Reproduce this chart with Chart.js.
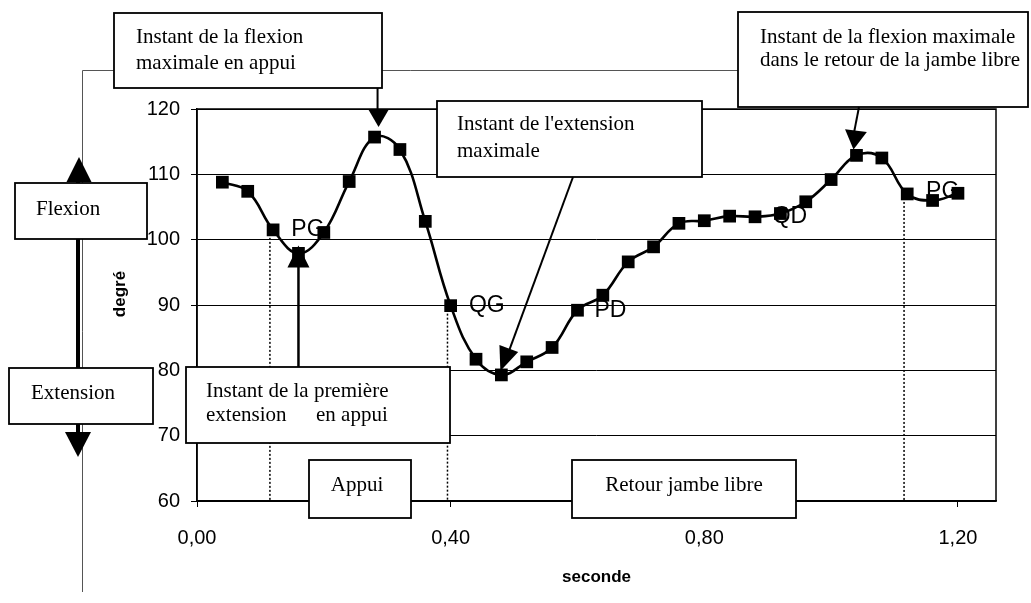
<!DOCTYPE html>
<html><head><meta charset="utf-8">
<script src="https://cdn.jsdelivr.net/npm/chart.js@4.4.1/dist/chart.umd.min.js"></script>
<style>html,body{margin:0;padding:0;background:#fff;}canvas{display:block;}</style>
</head><body>
<canvas id="c" width="1031" height="603"></canvas>
<script>
// time (s)
const seconde = [0.04,0.08,0.12,0.16,0.20,0.24,0.28,0.32,0.36,0.40,0.44,0.48,0.52,0.56,0.60,0.64,0.68,0.72,0.76,0.80,0.84,0.88,0.92,0.96,1.00,1.04,1.08,1.12,1.16,1.20];
// knee angle (degrees)
const degre = [108.8,107.4,101.5,97.9,101.1,108.9,115.7,113.8,102.8,89.9,81.7,79.3,81.3,83.5,89.2,91.5,96.6,98.9,102.5,102.9,103.6,103.5,104.0,105.8,109.2,112.9,112.5,107.0,106.0,107.1];
const xTickValues = [0,0.4,0.8,1.2];
const yTickValues = [60,70,80,90,100,110,120];
const phaseLimits = [0.115,0.395,1.115];
const eventLabels = ['PG','QG','PD','QD','PG'];
const eventLabelX = [0.175,0.457,0.652,0.935,1.176];
const eventLabelY = [101.5,89.85,89.2,103.5,107.3];

const SERIF = '"Liberation Serif","Times New Roman",serif';
const SANS = '"Liberation Sans",Arial,sans-serif';

function nearestIdx(v){
  let b=0; for(let k=1;k<seconde.length;k++){ if(Math.abs(seconde[k]-v)<Math.abs(seconde[b]-v)) b=k; } return b;
}
function box(ctx,x0,y0,x1,y1){
  ctx.save(); ctx.fillStyle='#fff'; ctx.fillRect(x0,y0,x1-x0,y1-y0);
  ctx.strokeStyle='#000'; ctx.lineWidth=1.8; ctx.strokeRect(x0,y0,x1-x0,y1-y0); ctx.restore();
}
function txt(ctx,s,x,y,align,base,font){
  ctx.save(); ctx.fillStyle='#000'; ctx.font=font||('21px '+SERIF); ctx.textAlign=align||'left'; ctx.textBaseline=base||'alphabetic'; ctx.fillText(s,x,y); ctx.restore();
}
function line(ctx,x0,y0,x1,y1,w,col){
  ctx.save(); ctx.strokeStyle=col||'#000'; ctx.lineWidth=w||2; ctx.beginPath(); ctx.moveTo(x0,y0); ctx.lineTo(x1,y1); ctx.stroke(); ctx.restore();
}
function head(ctx,fx,fy,tx,ty,len,half){
  const dx=tx-fx, dy=ty-fy, L=Math.hypot(dx,dy), ux=dx/L, uy=dy/L;
  const bx=tx-ux*len, by=ty-uy*len;
  ctx.save(); ctx.fillStyle='#000'; ctx.beginPath();
  ctx.moveTo(tx,ty); ctx.lineTo(bx-uy*half,by+ux*half); ctx.lineTo(bx+uy*half,by-ux*half); ctx.closePath(); ctx.fill(); ctx.restore();
}

const deco = {
  id:'deco',
  beforeDatasetsDraw(chart){
    const {ctx, chartArea:a, scales:{x,y}} = chart;
    ctx.save();
    ctx.strokeStyle='#000'; ctx.lineWidth=1.5; ctx.setLineDash([2,2]);
    phaseLimits.forEach(v=>{
      const i=nearestIdx(v), px=x.getPixelForValue(v);
      ctx.beginPath(); ctx.moveTo(px,y.getPixelForValue(degre[i])); ctx.lineTo(px,a.bottom); ctx.stroke();
    });
    ctx.setLineDash([]);
    ctx.lineWidth=1.5; ctx.strokeRect(a.left,a.top,a.right-a.left,a.bottom-a.top);
    ctx.restore();
  },
  afterDraw(chart){
    const {ctx, chartArea:a, scales:{x,y}} = chart;
    const P = i => ({px:x.getPixelForValue(seconde[i]), py:y.getPixelForValue(degre[i])});
    // event labels
    eventLabels.forEach((s,k)=>txt(ctx,s,x.getPixelForValue(eventLabelX[k]),y.getPixelForValue(eventLabelY[k]),'center','middle','23px '+SANS));
    // y axis title
    ctx.save(); ctx.translate(120,294); ctx.rotate(-Math.PI/2);
    txt(ctx,'degré',0,0,'center','middle','bold 17px '+SANS); ctx.restore();

    // left frame line
    ctx.save(); ctx.strokeStyle='#555'; ctx.lineWidth=1; ctx.beginPath();
    ctx.moveTo(82.5,592); ctx.lineTo(82.5,70.5); ctx.lineTo(738,70.5); ctx.stroke(); ctx.restore();
    // flexion / extension double arrow
    line(ctx,78,182,78,432,4);
    head(ctx,79,190,79,157,25,12.5);
    head(ctx,78,420,78,457,25,13);
    box(ctx,15,183,147,239); txt(ctx,'Flexion',36,215);
    box(ctx,9,368,153,424); txt(ctx,'Extension',31,399);

    // flexion max en appui
    const p7=P(6);
    box(ctx,114,13,382,88);
    txt(ctx,'Instant de la flexion',136,43); txt(ctx,'maximale en appui',136,69);
    line(ctx,p7.px+3,88,p7.px+3,112,2);
    head(ctx,p7.px+4,100,p7.px+4,p7.py-10,18,10.5);

    // extension maximale
    const p12=P(11);
    box(ctx,437,101,702,177);
    txt(ctx,"Instant de l'extension",457,130); txt(ctx,'maximale',457,157);
    line(ctx,573,177,p12.px+8,p12.py-25,2);
    head(ctx,573,177,p12.px-1,p12.py-4,24,10);

    // flexion max retour jambe libre
    const p26=P(25);
    box(ctx,738,12,1028,107);
    txt(ctx,'Instant de la flexion maximale',760,43); txt(ctx,'dans le retour de la jambe libre',760,66);
    line(ctx,859,107,p26.px-3,p26.py-20,2);
    head(ctx,859,107,p26.px-3,p26.py-6,19,11);

    // première extension en appui
    const p4=P(3);
    line(ctx,p4.px,p4.py+10,p4.px,367,2.5);
    head(ctx,p4.px,p4.py+20,p4.px,p4.py-8,22,11);
    box(ctx,186,367,450,443);
    txt(ctx,'Instant de la première',206,397); txt(ctx,'extension',206,421); txt(ctx,'en appui',316,421);

    // phases
    box(ctx,309,460,411,518); txt(ctx,'Appui',357,485,'center','middle');
    box(ctx,572,460,796,518); txt(ctx,'Retour jambe libre',684,485,'center','middle');
  }
};

new Chart(document.getElementById('c'), {
  type:'line',
  data:{ datasets:[{
    data: seconde.map((s,i)=>({x:s,y:degre[i]})),
    borderColor:'#000', borderWidth:2.6, tension:0.4,
    pointStyle:'rect', pointRadius:9, pointBackgroundColor:'#000', pointBorderColor:'#000', pointBorderWidth:0,
    fill:false
  }]},
  options:{
    responsive:false, animation:false, devicePixelRatio:1,
    layout:{padding:{top:109,right:35,left:0,bottom:0}},
    plugins:{legend:{display:false}, tooltip:{enabled:false}},
    events:[],
    scales:{
      x:{ type:'linear', min:0, max:1.26,
        afterBuildTicks: s => { s.ticks = xTickValues.map(v=>({value:v})); },
        afterFit: s => { s.height = 102; },
        grid:{drawOnChartArea:false, drawTicks:true, tickLength:6, color:'#000', lineWidth:1},
        border:{display:true, color:'#000', width:1.5},
        ticks:{ padding:19, color:'#000', font:{family:SANS, size:20}, maxRotation:0,
          callback: v => v.toFixed(2).replace('.',',') },
        title:{display:true, text:'seconde', color:'#000', font:{family:SANS, size:17, weight:'bold'}, padding:{top:0,bottom:15}}
      },
      y:{ type:'linear', min:60, max:120,
        afterBuildTicks: s => { s.ticks = yTickValues.map(v=>({value:v})); },
        afterFit: s => { s.width = 197; },
        grid:{drawOnChartArea:true, drawTicks:true, tickLength:6, color:'#000', lineWidth:1},
        border:{display:true, color:'#000', width:1.5},
        ticks:{ padding:11, color:'#000', font:{family:SANS, size:20} }
      }
    }
  },
  plugins:[deco]
});
</script>
</body></html>
